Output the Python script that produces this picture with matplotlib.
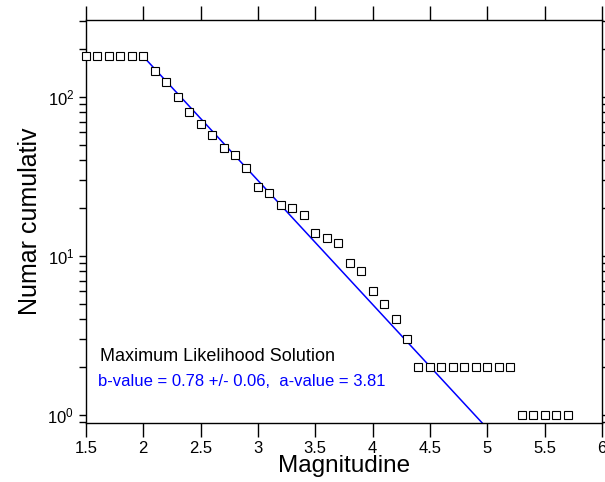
import numpy as np
import matplotlib
matplotlib.use("Agg")
import matplotlib.pyplot as plt

plt.rcParams['font.family'] = ['Liberation Sans', 'DejaVu Sans']
plt.rcParams['mathtext.fontset'] = 'custom'
plt.rcParams['mathtext.rm'] = 'Liberation Sans'
plt.rcParams['mathtext.default'] = 'regular'

# magnitude bins and cumulative counts
mag = [1.5, 1.6, 1.7, 1.8, 1.9, 2.0, 2.1, 2.2, 2.3, 2.4, 2.5, 2.6, 2.7, 2.8, 2.9,
       3.0, 3.1, 3.2, 3.3, 3.4, 3.5, 3.6, 3.7, 3.8, 3.9, 4.0, 4.1, 4.2, 4.3,
       4.4, 4.5, 4.6, 4.7, 4.8, 4.9, 5.0, 5.1, 5.2,
       5.3, 5.4, 5.5, 5.6, 5.7]
ncum = [181, 181, 181, 181, 181, 181, 146, 124, 100, 80, 68, 58, 48, 43, 36,
        27, 25, 21, 20, 18, 14, 13, 12, 9, 8, 6, 5, 4, 3,
        2, 2, 2, 2, 2, 2, 2, 2, 2,
        1, 1, 1, 1, 1]

b_value = 0.78
b_err = 0.06
a_value = 3.81
a_fit = 3.815  # intercept used for drawing the line
mc = 2.0

fig = plt.figure(figsize=(6.05, 4.82), dpi=100)
ax = fig.add_axes([0.142, 0.1224, 0.853, 0.8361])

ax.semilogy(mag, ncum, linestyle='none', marker='s', markersize=6,
            markerfacecolor='white', markeredgecolor='black', markeredgewidth=0.8,
            clip_on=False, zorder=3)

mfit = np.linspace(mc, 6, 50)
ax.semilogy(mfit, 10 ** (a_fit - b_value * mfit), color='#0000ff', lw=1.1)

ax.set_xlim(1.5, 6)
ax.set_ylim(0.89, 305)
ax.set_xticks(np.arange(1.5, 6.01, 0.5))
ax.set_xticklabels(['1.5', '2', '2.5', '3', '3.5', '4', '4.5', '5', '5.5', '6'])

ax.tick_params(axis='x', which='major', direction='out', length=10, width=1,
               top=True, labelsize=12, pad=3)
ax.tick_params(axis='y', which='both', direction='out', length=5, width=1,
               right=True, labelsize=12)
ax.tick_params(axis='x', which='minor', bottom=False, top=False)

for s in ax.spines.values():
    s.set_linewidth(1)

ax.set_xlabel('Magnitudine', fontsize=17.5, labelpad=-1)
ax.set_ylabel('Numar cumulativ', fontsize=18, labelpad=4)

ax.text(0.027, 0.165, 'Maximum Likelihood Solution', transform=ax.transAxes,
        fontsize=13, color='black', va='center')
ax.text(0.023, 0.103,
        'b-value = %.2f +/- %.2f,  a-value = %.2f' % (b_value, b_err, a_value),
        transform=ax.transAxes, fontsize=12, color='#0000ff', va='center')

plt.savefig('out.png', dpi=100)
